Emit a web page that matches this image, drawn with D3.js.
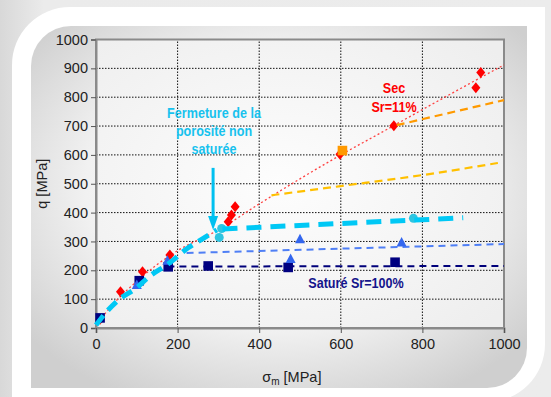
<!DOCTYPE html>
<html><head><meta charset="utf-8">
<script src="https://cdn.jsdelivr.net/npm/d3@7"></script>
<style>
html,body{margin:0;padding:0;background:#e6e6e6;}
svg{display:block;}
text{font-family:"Liberation Sans",Arial,sans-serif;}
.ann{font-family:"Liberation Sans",Arial,sans-serif;font-weight:bold;}
</style></head>
<body>
<script>
// ---- data ----
const xTicks = [0,200,400,600,800,1000];
const yTicks = [0,100,200,300,400,500,600,700,800,900,1000];
// Sec Sr=11% (red diamonds)
const secX = [10,60,114,181,324,332,341,598,730,931,943];
const secY = [30,126,195,253,368,392,420,602,701,833,886];
// red dotted trend
const secLineX = [0,50,100,150,200,300,400,500,600,700,800,900,1000];
const secLineY = [12,95,162,220,268,340,430,517,600,678,757,835,912];
// orange square + dashed
const orangeX = [604], orangeY = [615];
const orangeLineX = [737,1000], orangeLineY = [703,790];
// yellow dashed
const yellowLineX = [430,600,800,985], yellowLineY = [460,492,530,572];
// blue triangles
const triX = [100,175,477,500,749];
const triY = [149,233,239,308,296];
const blueLineX = [222,400,600,800,1000], blueLineY = [260,267,275,283,291];
// Saturé Sr=100% (navy squares)
const satX = [10,106,177,275,471,733];
const satY = [35,164,212,215,210,228];
const navyLineX = [175,1000], navyLineY = [213,215];
// cyan: closure of unsaturated porosity
const cyanLowX = [0,25,55,100,130,180,225,260,296];
const cyanLowY = [10,55,97,140,178,225,277,308,340];
const cyanHighX = [310,900], cyanHighY = [343,382];
const cyanPtX = [302,308,778], cyanPtY = [314,345,380];
const arrowX = [287,287], arrowY = [555,340];

const W = 551, H = 397;
const svg = d3.select("body").append("svg").attr("width",W).attr("height",H);
const defs = svg.append("defs");
const rg = defs.append("radialGradient").attr("id","inner").attr("cx","50%").attr("cy","45%").attr("r","65%");
rg.append("stop").attr("offset","0%").attr("stop-color","#ffffff");
rg.append("stop").attr("offset","60%").attr("stop-color","#f1f1f1");
rg.append("stop").attr("offset","100%").attr("stop-color","#cfcfcf");
const lg = defs.append("linearGradient").attr("id","outer").attr("x1","0").attr("x2","1").attr("y1","0").attr("y2","0");
lg.append("stop").attr("offset","0%").attr("stop-color","#d8d8d8");
lg.append("stop").attr("offset","8%").attr("stop-color","#ebebeb");
lg.append("stop").attr("offset","100%").attr("stop-color","#ececec");
const pg = defs.append("radialGradient").attr("id","plotbg").attr("cx","45%").attr("cy","50%").attr("r","70%");
pg.append("stop").attr("offset","0%").attr("stop-color","#fdfdfd");
pg.append("stop").attr("offset","100%").attr("stop-color","#eeeeee");

svg.append("rect").attr("width",W).attr("height",H).attr("fill","url(#outer)");

function roundTLBR(x0,y0,x1,y1,r){
  return `M${x0},${y0+r} A${r},${r} 0 0 1 ${x0+r},${y0} L${x1},${y0} L${x1},${y1-r} A${r},${r} 0 0 1 ${x1-r},${y1} L${x0},${y1} Z`;
}
svg.append("path").attr("d",roundTLBR(12,7,545,402,58)).attr("fill","#ffffff");
svg.append("path").attr("d",roundTLBR(31,26,527,388,40)).attr("fill","url(#inner)");

const x = d3.scaleLinear().domain([0,1000]).range([96,504]);
const y = d3.scaleLinear().domain([0,1000]).range([328,39.5]);

// plot area
svg.append("rect").attr("x",x(0)).attr("y",y(1000)).attr("width",x(1000)-x(0)).attr("height",y(0)-y(1000))
  .attr("fill","url(#plotbg)");

// grid
const grid = svg.append("g");
grid.selectAll("line.h").data(yTicks.filter(d=>d>0&&d<1000)).join("line")
  .attr("x1",x(0)).attr("x2",x(1000)).attr("y1",d=>y(d)).attr("y2",d=>y(d))
  .attr("stroke","#111").attr("stroke-width",1).attr("stroke-dasharray","1.5,1.5");
grid.selectAll("line.v").data(xTicks.filter(d=>d>0&&d<1000)).join("line")
  .attr("y1",y(0)).attr("y2",y(1000)).attr("x1",d=>x(d)).attr("x2",d=>x(d))
  .attr("stroke","#111").attr("stroke-width",1).attr("stroke-dasharray","1.5,1.5");

// frame
svg.append("rect").attr("x",x(0)).attr("y",y(1000)).attr("width",x(1000)-x(0)).attr("height",y(0)-y(1000))
  .attr("fill","none").attr("stroke","#8a8a8a").attr("stroke-width",2);

// axes
const fmt = d3.format("d");
const yAxis = svg.append("g").attr("transform",`translate(${x(0)},0)`)
  .call(d3.axisLeft(y).tickValues(yTicks).tickFormat(fmt).tickSize(5).tickPadding(3));
const xAxis = svg.append("g").attr("transform",`translate(0,${y(0)})`)
  .call(d3.axisBottom(x).tickValues(xTicks).tickFormat(fmt).tickSize(5).tickPadding(6));
[yAxis,xAxis].forEach(a=>{
  a.select(".domain").attr("stroke","#8a8a8a").attr("stroke-width",2);
  a.selectAll(".tick line").attr("stroke","#555");
  a.selectAll(".tick text").attr("font-size",14.5).attr("fill","#222").attr("font-family","'Liberation Sans',Arial,sans-serif");
});

// axis titles
svg.append("text").attr("transform",`translate(47,${y(500)}) rotate(-90)`).attr("text-anchor","middle")
  .attr("font-size",14.5).attr("fill","#222").text("q [MPa]");
const xt = svg.append("text").attr("x",x(480)).attr("y",382).attr("text-anchor","middle").attr("font-size",14.5).attr("fill","#222");
xt.append("tspan").text("σ");
xt.append("tspan").attr("dy",3).attr("font-size",10).text("m");
xt.append("tspan").attr("dy",-3).text(" [MPa]");

const line = d3.line().x(d=>x(d[0])).y(d=>y(d[1]));
const zip = (a,b)=>a.map((v,i)=>[v,b[i]]);
const plot = svg.append("g");
function drawLine(xs,ys,color,w,dash,curve){
  plot.append("path").datum(zip(xs,ys))
    .attr("d",line.curve(curve||d3.curveLinear))
    .attr("fill","none").attr("stroke",color).attr("stroke-width",w).attr("stroke-dasharray",dash);
}
const diamond = "M0,-5.5 L4.5,0 L0,5.5 L-4.5,0 Z";
const square = "M-4.8,-4.8 H4.8 V4.8 H-4.8 Z";
const tri = "M0,-5.5 L5,4 L-5,4 Z";

// red series
drawLine(secLineX,secLineY,"#ff4040",1.3,"2,2.5",d3.curveMonotoneX);
plot.selectAll("path.sec").data(zip(secX,secY)).join("path").attr("class","sec")
  .attr("d",diamond).attr("transform",d=>`translate(${x(d[0])},${y(d[1])})`).attr("fill","#ff0000");
// orange
drawLine(orangeLineX,orangeLineY,"#ff9a00",2.2,"8,5");
plot.selectAll("path.or").data(zip(orangeX,orangeY)).join("path").attr("class","or")
  .attr("d",square).attr("transform",d=>`translate(${x(d[0])},${y(d[1])})`).attr("fill","#ff9900");
// yellow
drawLine(yellowLineX,yellowLineY,"#ffc000",2.2,"8,5",d3.curveMonotoneX);
// navy
drawLine(navyLineX,navyLineY,"#00007a",2,"7,5");
plot.selectAll("path.sat").data(zip(satX,satY)).join("path").attr("class","sat")
  .attr("d",square).attr("transform",d=>`translate(${x(d[0])},${y(d[1])})`).attr("fill","#000080");
// blue
drawLine(blueLineX,blueLineY,"#4f7ff5",2,"7,5",d3.curveMonotoneX);
plot.selectAll("path.tri").data(zip(triX,triY)).join("path").attr("class","tri")
  .attr("d",tri).attr("transform",d=>`translate(${x(d[0])},${y(d[1])})`).attr("fill","#3366ee");
// cyan
plot.selectAll("circle.cy").data(zip(cyanPtX,cyanPtY)).join("circle").attr("class","cy")
  .attr("cx",d=>x(d[0])).attr("cy",d=>y(d[1])).attr("r",4.5).attr("fill","#2ec4e0");
drawLine(cyanLowX,cyanLowY,"#00c8f5",5,"12,7",d3.curveMonotoneX);
drawLine(cyanHighX,cyanHighY,"#00c8f5",5,"15,9");
// arrow
const ax = x(arrowX[0]);
plot.append("line").attr("x1",ax).attr("x2",ax).attr("y1",y(arrowY[0])).attr("y2",y(arrowY[1])-10)
  .attr("stroke","#00c0f0").attr("stroke-width",3);
plot.append("path").attr("d",`M${ax-5},${y(arrowY[1])-14} L${ax+5},${y(arrowY[1])-14} L${ax},${y(arrowY[1])} Z`).attr("fill","#00c0f0");

// annotations (condensed bold)
function annText(str,cx,cy,color){
  svg.append("text").attr("class","ann")
    .attr("transform",`translate(${cx},${cy}) scale(0.84,1)`)
    .attr("text-anchor","middle").attr("font-size",15).attr("fill",color).text(str);
}
["Fermeture de la","porosité non","saturée"].forEach((s,i)=>annText(s,214,118+i*18,"#17c2ee"));
["Sec","Sr=11%"].forEach((s,i)=>annText(s,394,93+i*19,"#ff0000"));
annText("Saturé Sr=100%",356,288,"#14148c");
</script>
</body></html>
